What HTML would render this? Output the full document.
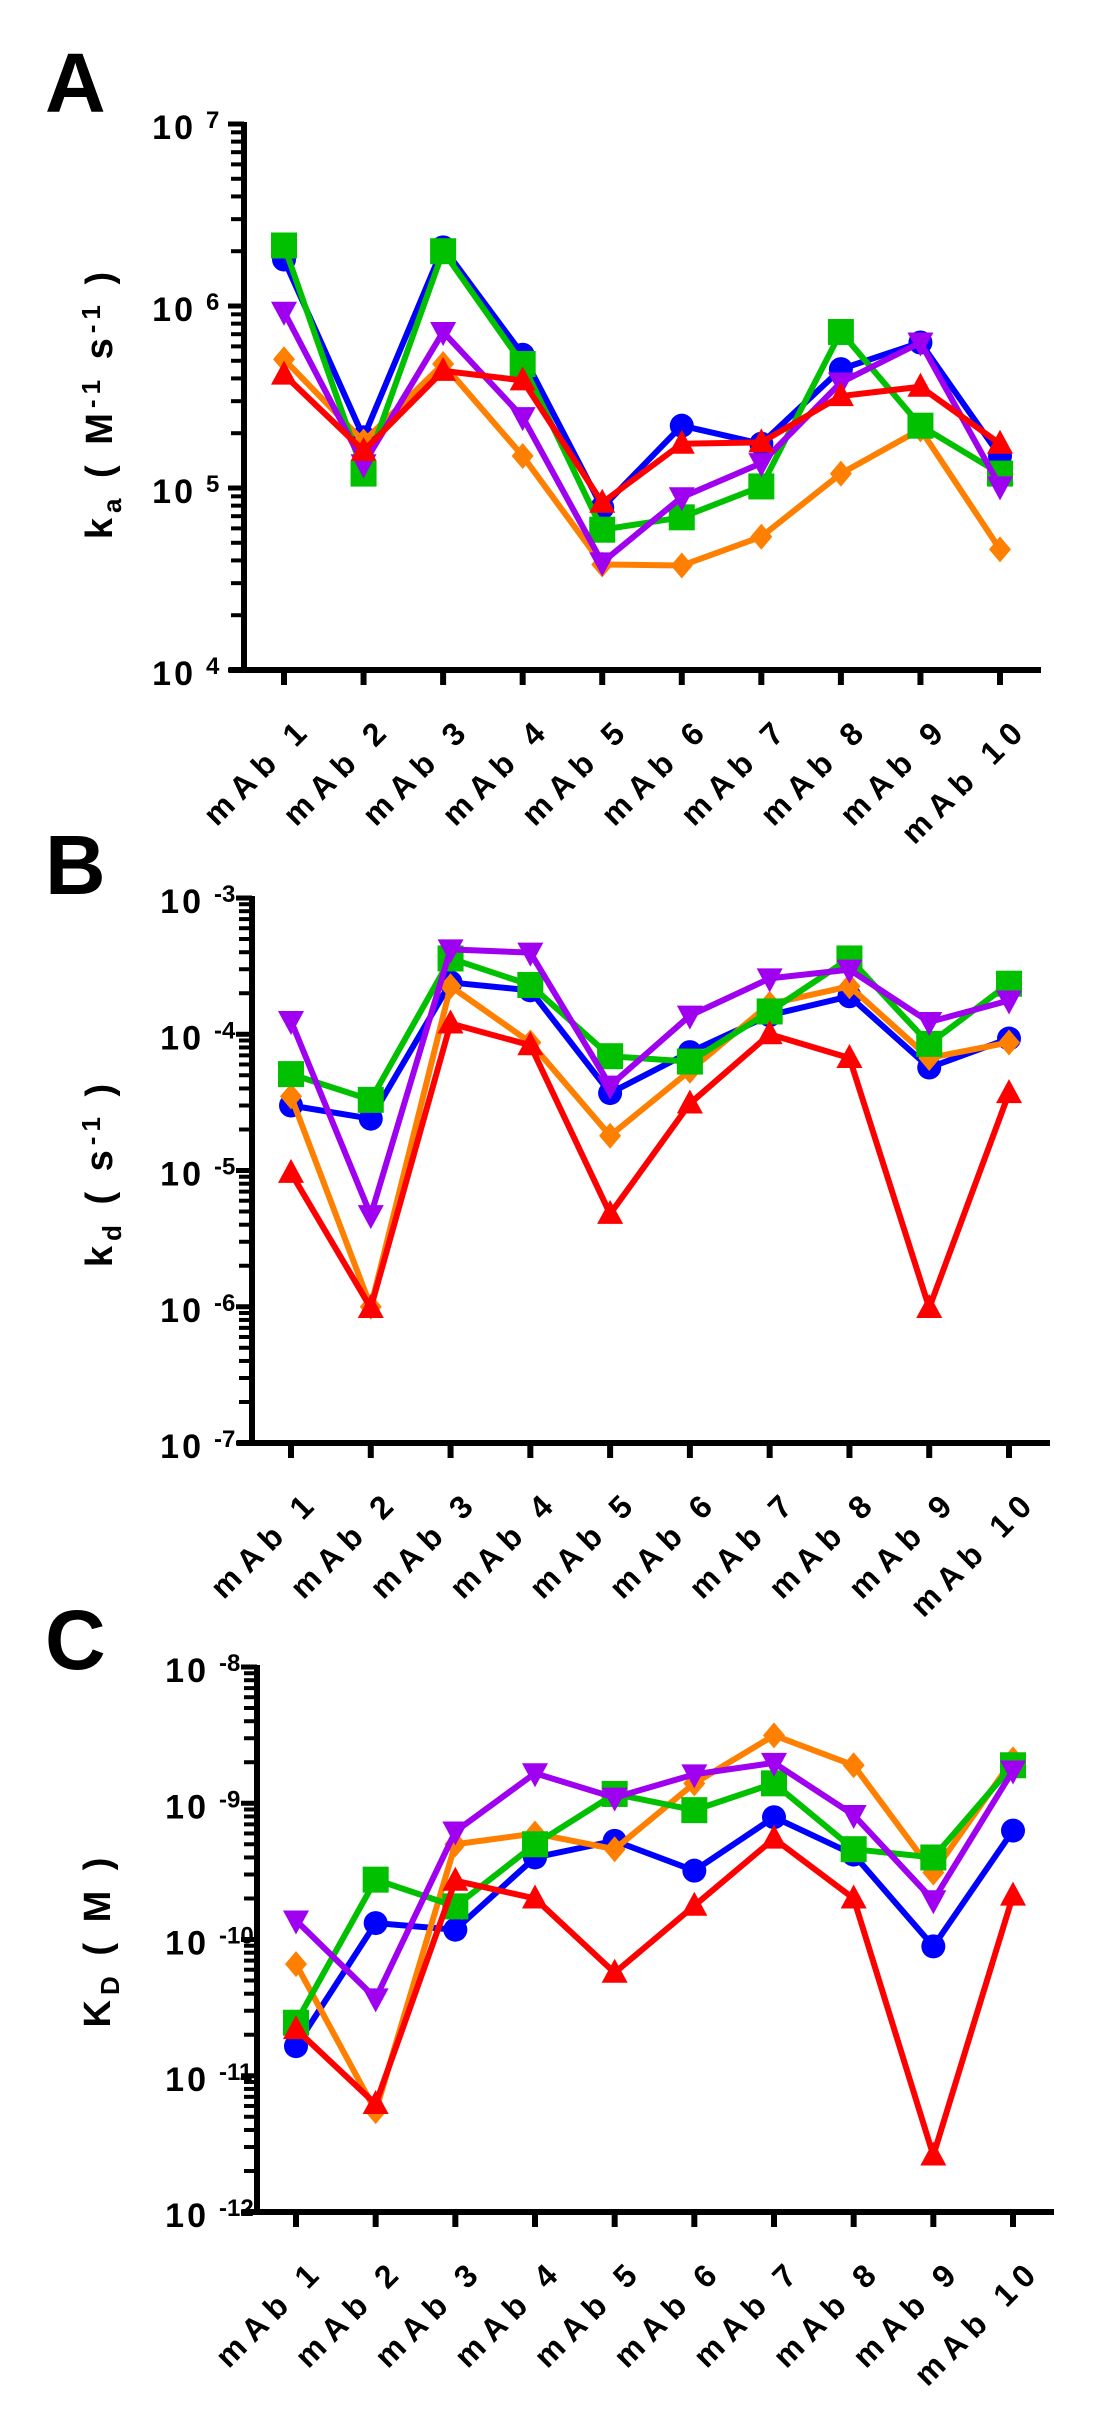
<!DOCTYPE html>
<html><head><meta charset="utf-8"><style>
html,body{margin:0;padding:0;background:#fff;}
svg{display:block;font-family:"Liberation Sans",Arial,sans-serif;font-weight:bold;}
</style></head><body>
<svg id="fig" width="1120" height="2424" viewBox="0 0 1120 2424">
<text x="45" y="112" font-size="84" font-weight="bold">A</text>
<text x="45" y="894" font-size="84" font-weight="bold">B</text>
<text x="45" y="1669" font-size="84" font-weight="bold">C</text>
</svg>
<script>
const categories = ["mAb 1","mAb 2","mAb 3","mAb 4","mAb 5","mAb 6","mAb 7","mAb 8","mAb 9","mAb 10"];
const seriesNames = ["blue","orange","green","purple","red"];
// Panel A: ka
const kaBlue   = [1.8e6,1.9e5,2.1e6,5.4e5,7.8e4,2.2e5,1.75e5,4.5e5,6.3e5,1.5e5];
const kaOrange = [5.1e5,1.8e5,4.8e5,1.5e5,3.8e4,3.75e4,5.4e4,1.2e5,2.1e5,4.6e4];
const kaGreen  = [2.15e6,1.2e5,2.0e6,4.8e5,5.9e4,6.9e4,1.02e5,7.2e5,2.2e5,1.2e5];
const kaPurple = [9.3e5,1.35e5,7.2e5,2.45e5,3.9e4,8.9e4,1.37e5,3.8e5,6.3e5,1.02e5];
const kaRed    = [4.2e5,1.6e5,4.4e5,3.9e5,8.3e4,1.75e5,1.78e5,3.2e5,3.6e5,1.75e5];
// Panel B: kd
const kdBlue   = [3.0e-5,2.4e-5,2.4e-4,2.1e-4,3.7e-5,7.4e-5,1.38e-4,1.9e-4,5.7e-5,9.3e-5];
const kdOrange = [3.5e-5,1e-6,2.25e-4,8.7e-5,1.8e-5,5.4e-5,1.67e-4,2.25e-4,6.7e-5,8.7e-5];
const kdGreen  = [5.1e-5,3.3e-5,3.6e-4,2.3e-4,6.9e-5,6.3e-5,1.47e-4,3.6e-4,8.5e-5,2.35e-4];
const kdPurple = [1.25e-4,4.7e-6,4.2e-4,3.97e-4,4.2e-5,1.37e-4,2.57e-4,2.98e-4,1.23e-4,1.77e-4];
const kdRed    = [9.6e-6,9.8e-7,1.2e-4,8.3e-5,4.8e-6,3.1e-5,1.0e-4,6.7e-5,9.8e-7,3.7e-5];
// Panel C: KD
const KDBlue   = [1.65e-11,1.32e-10,1.18e-10,4.0e-10,5.3e-10,3.2e-10,7.9e-10,4.2e-10,8.9e-11,6.3e-10];
const KDOrange = [6.6e-11,5.5e-12,5.0e-10,6.0e-10,4.6e-10,1.4e-9,3.15e-9,1.9e-9,3.1e-10,2.1e-9];
const KDGreen  = [2.45e-11,2.75e-10,1.75e-10,5.0e-10,1.17e-9,8.9e-10,1.4e-9,4.6e-10,4.0e-10,1.9e-9];
const KDPurple = [1.38e-10,3.7e-11,6.2e-10,1.66e-9,1.1e-9,1.63e-9,1.98e-9,8.2e-10,1.94e-10,1.74e-9];
const KDRed    = [2.2e-11,6.2e-12,2.7e-10,2.0e-10,5.7e-11,1.77e-10,5.5e-10,2.0e-10,2.6e-12,2.1e-10];
const decadesA = [4,5,6,7];
const decadesB = [-7,-6,-5,-4,-3];
const decadesC = [-12,-11,-10,-9,-8];

const NS = "http://www.w3.org/2000/svg";
const svg = document.getElementById("fig");
const colors = {blue:"#0000ff",orange:"#ff8000",green:"#00c000",purple:"#a000f0",red:"#ff0000"};
const markers = {blue:"circle",orange:"diamond",green:"square",purple:"tdown",red:"tup"};
function mk(tag, attrs, parent){const e=document.createElementNS(NS,tag);for(const k in attrs)e.setAttribute(k,attrs[k]);(parent||svg).appendChild(e);return e;}

function panel(id, cfg, decades, data, labelParts){
  const g = mk("g",{});
  
  
  const lo = decades[0], hi = decades[decades.length-1];
  const y = v => cfg.bottom - (Math.log10(v) - lo) / (hi - lo) * (cfg.bottom - cfg.top);
  const x = i => cfg.x0 + i * (cfg.x1 - cfg.x0) / (categories.length - 1);
  const ax = mk("line",{x1:cfg.ax,y1:cfg.top-2,x2:cfg.ax,y2:cfg.bottom+3,stroke:"#000","stroke-width":6},g);
  
  
  for (let d = lo; d <= hi; d++) {
    const ty = y(Math.pow(10,d));
    const t = mk("line",{x1:cfg.ax-16,y1:ty,x2:cfg.ax,y2:ty,stroke:"#000","stroke-width":5},g);
    
    
    const lab = mk("text",{x:cfg.ax-48,y:ty+15,"font-size":34,"font-weight":"bold","text-anchor":"end","letter-spacing":"3"},g);
    
    
    lab.textContent = "10";
    const sup = mk("text",{x:cfg.ax-38,y:ty+4,"font-size":24,"font-weight":"bold"},g);
    
    
    sup.textContent = String(d);
    if (d < hi) for (let m = 2; m <= 9; m++) {
      const my = y(m*Math.pow(10,d));
      const mt = mk("line",{x1:cfg.ax-13,y1:my,x2:cfg.ax,y2:my,stroke:"#000","stroke-width":4},g);
      
      
    }
  }
  const xa = mk("line",{x1:cfg.ax-15,y1:cfg.bottom,x2:cfg.xend,y2:cfg.bottom,stroke:"#000","stroke-width":6},g);
  
  
  categories.forEach((c,i)=>{
    const tx = x(i);
    const t = mk("line",{x1:tx,y1:cfg.bottom,x2:tx,y2:cfg.bottom+15,stroke:"#000","stroke-width":6},g);
    
    
    const lx = tx+30, ly = cfg.bottom+60;
    const lab = mk("text",{x:lx,y:ly,"font-size":32,"font-weight":"bold","text-anchor":"end","letter-spacing":"8",transform:`rotate(-45 ${lx} ${ly})`},g);
    
    
    lab.textContent = c;
  });
  const yl = mk("text",{x:0,y:0,"font-size":38,"font-weight":"bold","text-anchor":"middle","letter-spacing":"5",transform:`translate(${cfg.lx} ${cfg.ly}) rotate(-90)`},g);
  
  
  labelParts.forEach(p=>{
    const ts = mk("tspan",{"font-size":p[1]},yl);
    if (p[2]) ts.setAttribute("dy", p[2]);
    ts.textContent = p[0];
  });
  seriesNames.forEach((s,si)=>{
    const vals = data[si];
    const sg = mk("g",{},g);
    
    
    const pts = vals.map((v,i)=>x(i)+","+y(v)).join(" ");
    const pl = mk("polyline",{points:pts,fill:"none",stroke:colors[s],"stroke-width":6,"stroke-linejoin":"round"},sg);
    
    
    vals.forEach((v,i)=>{
      const cx = x(i), cy = y(v); let m;
      const t = markers[s];
      if (t==="circle") m = mk("circle",{cx:cx,cy:cy,r:12,fill:colors[s]},sg);
      else if (t==="square") m = mk("rect",{x:cx-13,y:cy-13,width:26,height:26,fill:colors[s]},sg);
      else if (t==="diamond") m = mk("polygon",{points:`${cx},${cy-13} ${cx+11},${cy} ${cx},${cy+13} ${cx-11},${cy}`,fill:colors[s]},sg);
      else if (t==="tup") m = mk("polygon",{points:`${cx},${cy-14} ${cx+13},${cy+10} ${cx-13},${cy+10}`,fill:colors[s]},sg);
      else m = mk("polygon",{points:`${cx},${cy+14} ${cx+13},${cy-10} ${cx-13},${cy-10}`,fill:colors[s]},sg);
      
      
    });
  });
}
panel("ka",{ax:244,top:124,bottom:670,x0:284,x1:1000,xend:1041,lx:112,ly:403},decadesA,
  [kaBlue,kaOrange,kaGreen,kaPurple,kaRed],
  [["k",38],["a",26,"9"],["  ( M",38,"-9"],["-1",26,"-12"],[" s",38,"12"],["-1",26,"-12"],[" )",38,"12"]]);
panel("kd",{ax:252,top:898,bottom:1443,x0:291,x1:1009,xend:1050,lx:112,ly:1173},decadesB,
  [kdBlue,kdOrange,kdGreen,kdPurple,kdRed],
  [["k",38],["d",26,"9"],["  ( s",38,"-9"],["-1",26,"-12"],[" )",38,"12"]]);
panel("KD",{ax:257,top:1667,bottom:2212,x0:296,x1:1013,xend:1054,lx:110,ly:1940},decadesC,
  [KDBlue,KDOrange,KDGreen,KDPurple,KDRed],
  [["K",38],["D",26,"9"],["  ( M )",38,"-9"]]);
</script>
</body></html>
